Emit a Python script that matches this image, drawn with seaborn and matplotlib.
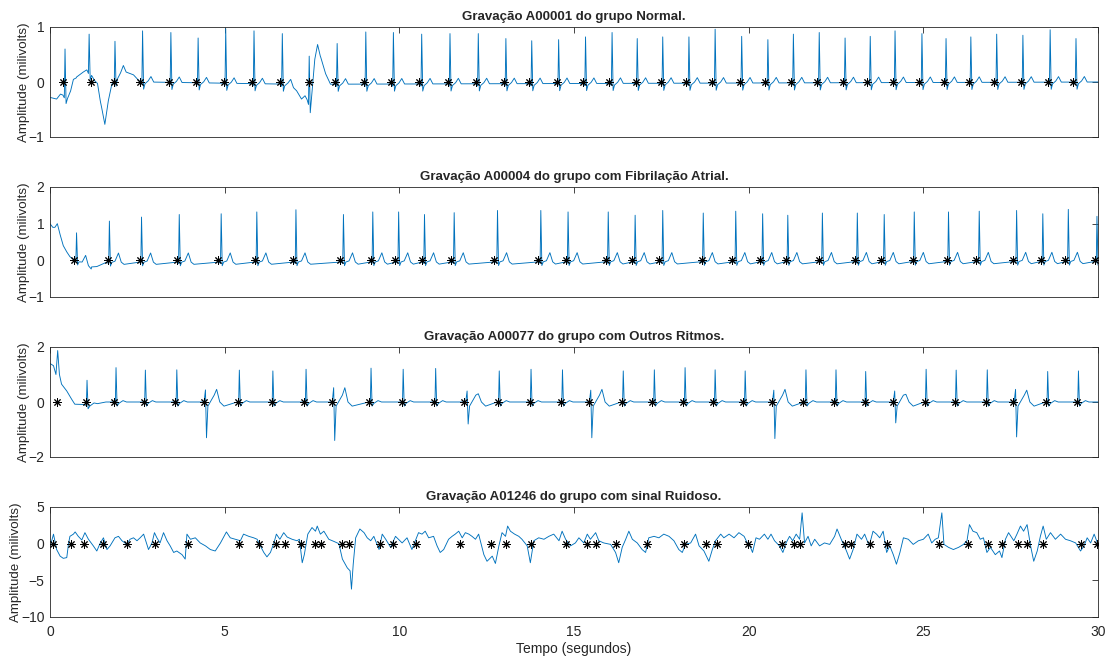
import numpy as np
import pandas as pd
import matplotlib
matplotlib.use('Agg')
import matplotlib.pyplot as plt
import seaborn as sns

# ---- painel 1: A00001 (Normal) ----
p1_beats = [0.43, 1.12, 1.86, 2.65, 3.46, 4.24, 5.03, 5.84, 6.65, 7.42, 8.22, 9.04, 9.83,
            10.64, 11.45, 12.26, 13.05, 13.79, 14.56, 15.33, 16.09, 16.81, 17.54, 18.29, 19.04, 19.8,
            20.55, 21.28, 22.02, 22.76, 23.48, 24.19, 24.96, 25.65, 26.36, 27.1, 27.85, 28.63, 29.37]
p1_peaks = [0.6, 0.87, 0.74, 0.93, 0.9, 0.8, 0.97, 0.93, 0.88, 0.47, 0.7, 0.91, 0.9,
            0.87, 0.88, 0.88, 0.79, 0.75, 0.77, 0.82, 0.9, 0.79, 0.82, 0.82, 0.96, 0.83,
            0.77, 0.87, 0.9, 0.8, 0.83, 0.93, 0.88, 0.79, 0.82, 0.87, 0.85, 0.95, 0.79]
p1_base_t = [0.0, 0.19, 0.3, 0.53, 0.64, 0.76, 0.95, 1.05, 1.19, 1.38, 1.48, 1.57, 1.67, 1.77,
             1.95, 2.1, 2.39, 2.58, 2.8, 6.87, 7.06, 7.2, 7.3, 7.46, 7.56, 7.62, 7.75, 7.89, 8.03, 30.0]
p1_base_v = [-0.28, -0.31, -0.22, -0.28, -0.1, 0.09, 0.18, 0.22, 0.15, -0.16, -0.47, -0.77, -0.34, -0.04,
             0.1, 0.2, 0.13, 0.0, 0.0, -0.04, -0.16, -0.31, -0.25, -0.44, 0.27, 0.64, 0.45, 0.15, -0.04, 0.0]
p1_stars = [0.38, 1.18, 1.83, 2.58, 3.41, 4.18, 4.98, 5.79, 6.58, 7.40, 8.16, 8.99, 9.76,
            10.57, 11.39, 12.2, 13.0, 13.72, 14.51, 15.25, 16.0, 16.77, 17.48, 18.2, 18.94, 19.75,
            20.47, 21.21, 21.95, 22.69, 23.4, 24.14, 24.89, 25.59, 26.31, 27.03, 27.79, 28.58, 29.28]

# ---- painel 2: A00004 (Fibrilação Atrial) ----
p2_beats = [0.76, 1.70, 2.62, 3.70, 4.90, 5.92, 7.04, 8.40, 9.24, 9.98,
            10.72, 11.57, 12.81, 14.05, 14.83, 15.98, 16.75, 17.54, 18.7, 19.63,
            20.40, 21.12, 22.11, 23.11, 23.88, 24.74, 25.72, 26.6, 27.67, 28.42, 29.15, 29.97]
p2_peaks = [0.75, 1.07, 1.18, 1.25, 1.27, 1.32, 1.38, 1.25, 1.32, 1.32,
            1.25, 1.3, 1.36, 1.36, 1.32, 1.32, 1.23, 1.36, 1.29, 1.34,
            1.27, 1.23, 1.29, 1.29, 1.25, 1.32, 1.32, 1.34, 1.36, 1.27, 1.39, 1.2]
p2_base_t = [0.0, 0.08, 0.14, 0.21, 0.29, 0.38, 0.48, 0.57, 0.67, 1.19, 1.34, 1.6, 2.0, 30.0]
p2_base_v = [1.0, 0.9, 0.9, 1.0, 0.7, 0.4, 0.23, 0.1, 0.02, -0.18, -0.17, -0.06, -0.05, -0.03]
p2_stars = [0.69, 1.65, 2.58, 3.63, 4.82, 5.87, 6.97, 8.30, 9.19, 9.88,
            10.64, 11.48, 12.71, 13.98, 14.76, 15.91, 16.65, 17.43, 18.66, 19.52,
            20.33, 21.06, 22.0, 23.03, 23.79, 24.69, 25.67, 26.51, 27.58, 28.37, 29.06, 29.92]

# ---- painel 3: A00077 (Outros Ritmos) ----
p3_beats = [1.06, 1.89, 2.73, 3.63, 5.42, 6.38, 7.33, 9.19,
            10.11, 11.04, 12.86, 13.77, 14.67, 16.41, 17.3, 18.18, 19.04, 19.9,
            21.64, 22.5, 23.35, 25.08, 25.94, 26.83, 28.56, 29.44]
p3_peaks = [0.79, 1.25, 1.16, 1.17, 1.16, 1.13, 1.19, 1.23,
            1.19, 1.22, 1.13, 1.19, 1.17, 1.13, 1.17, 1.25, 1.17, 1.13,
            1.17, 1.17, 1.11, 1.19, 1.16, 1.17, 1.11, 1.13]
p3_ect_t = [4.46, 8.13, 11.95, 15.49, 20.73, 24.19, 27.65]
p3_ect_up = [0.44, 0.52, 0.4, 0.43, 0.43, 0.4, 0.46]
p3_ect_down = [-1.3, -1.4, -0.8, -1.3, -1.33, -0.76, -1.27]
p3_ect_twave = [0.46, 0.52, 0.3, 0.46, 0.46, 0.28, 0.43]
p3_base_t = [0.0, 0.1, 0.17, 0.22, 0.27, 0.33, 0.48, 0.62, 0.71, 1.2, 1.6, 30.0]
p3_base_v = [1.4, 1.32, 1.0, 1.87, 1.0, 0.65, 0.4, 0.1, -0.08, -0.1, 0.0, 0.0]
p3_stars = [0.19, 1.03, 1.84, 2.69, 3.58, 4.42, 5.37, 6.35, 7.28, 8.06, 9.14,
            10.09, 11.0, 11.85, 12.82, 13.74, 14.63, 15.43, 16.37, 17.23, 18.13, 18.99, 19.85,
            20.66, 21.55, 22.45, 23.33, 24.13, 25.05, 25.91, 26.8, 27.58, 28.52, 29.39]

# ---- painel 4: A01246 (sinal Ruidoso) ----
p4_t = [0.00, 0.10, 0.19, 0.29, 0.38, 0.48, 0.53, 0.57, 0.67, 0.72, 0.81, 0.91, 1.00, 1.10, 1.24,
        1.34, 1.43, 1.53, 1.63, 1.72, 1.86, 1.96, 2.06, 2.20, 2.29, 2.39, 2.49, 2.58, 2.68, 2.82,
        2.92, 2.99, 3.06, 3.15, 3.25, 3.35, 3.44, 3.54, 3.63, 3.78, 3.87, 3.92, 4.02, 4.16, 4.30,
        4.45, 4.59, 4.73, 4.88, 5.05, 5.16, 5.31, 5.45, 5.54, 5.69, 5.83, 5.93, 6.00, 6.12, 6.21,
        6.31, 6.41, 6.48, 6.58, 6.69, 6.79, 6.93, 7.07, 7.14, 7.22, 7.28, 7.38, 7.50, 7.60, 7.65,
        7.74, 7.84, 7.98, 8.13, 8.27, 8.37, 8.51, 8.59, 8.63, 8.68, 8.75, 8.87, 8.99, 9.08, 9.18,
        9.27, 9.42, 9.51, 9.61, 9.75, 9.89,
        10.08, 10.22, 10.36, 10.46, 10.55, 10.65, 10.74, 10.84, 10.98, 11.08,
        11.17, 11.27, 11.41, 11.51, 11.60, 11.70, 11.80, 11.89, 11.99, 12.08,
        12.18, 12.27, 12.42, 12.51, 12.66, 12.75, 12.85, 12.94, 13.04, 13.10,
        13.18, 13.30, 13.42, 13.51, 13.66, 13.75, 13.85, 13.99, 14.14, 14.28,
        14.42, 14.57, 14.66, 14.76, 14.90, 15.04, 15.14, 15.28, 15.38, 15.47,
        15.62, 15.71, 15.85, 16.05, 16.19, 16.28, 16.38, 16.48, 16.57, 16.67,
        16.81, 16.95, 17.05, 17.14, 17.29, 17.43, 17.57, 17.72, 17.86, 18.00,
        18.10, 18.19, 18.34, 18.48, 18.58, 18.72, 18.86, 18.96, 19.05, 19.20,
        19.29, 19.44, 19.58, 19.72, 19.87, 19.96,
        20.02, 20.11, 20.21, 20.31, 20.45, 20.55, 20.64, 20.74, 20.88, 20.98,
        21.07, 21.17, 21.26, 21.36, 21.46, 21.53, 21.60, 21.70, 21.79, 21.89,
        22.03, 22.17, 22.32, 22.46, 22.53, 22.65, 22.80, 22.89, 22.99, 23.10,
        23.23, 23.32, 23.45, 23.56, 23.66, 23.75, 23.85, 23.95, 24.04, 24.14,
        24.23, 24.33, 24.43, 24.57, 24.71, 24.86, 25.00, 25.14, 25.24, 25.34,
        25.43, 25.53, 25.59, 25.72, 25.86, 26.01, 26.15, 26.25, 26.32, 26.42,
        26.53, 26.63, 26.72, 26.82, 26.92, 27.06, 27.18, 27.25, 27.35, 27.44,
        27.59, 27.68, 27.78, 27.87, 27.97, 28.07, 28.16, 28.26, 28.35, 28.43,
        28.52, 28.64, 28.78, 28.93, 29.07, 29.21, 29.36, 29.50, 29.60, 29.69,
        29.79, 29.89, 30.00]
p4_v = [-0.5, 1.3, -0.8, -1.7, -2.0, -1.9, 0.0, 1.0, 1.3, 1.6, 1.0, 0.5, 1.5, 0.6, -0.3,
        -1.0, 0.0, 0.8, -0.8, -0.3, 0.8, 1.0, 0.4, -0.1, 0.6, 0.8, 0.4, 0.8, 1.3, -0.8,
        0.1, 1.5, 0.8, 0.1, 1.5, 0.4, -0.3, -1.2, -1.0, -1.5, -2.1, 1.3, 0.6, 0.8, 0.1,
        -0.3, -0.8, -1.0, 0.1, 1.6, 0.8, 0.6, 0.4, 1.3, 1.0, 0.8, 0.6, -0.1, -1.2, -1.8,
        -1.2, 0.1, 1.3, 0.6, 1.5, 0.9, 0.6, 0.4, 0.6, -2.6, -1.5, 1.3, 2.2, 1.7, 2.4,
        1.3, 1.7, 0.6, 0.3, 0.0, -2.1, -3.3, -3.7, -6.2, -2.8, 0.8, 2.0, 1.5, 0.8, 0.4,
        1.0, -0.8, 1.3, 0.6, -0.5, 1.0,
        0.1, 0.8, -0.8, 0.4, 1.5, 1.3, 1.7, 0.8, 1.0, -0.3,
        -1.2, -0.8, 0.6, 1.0, 1.3, 1.7, 0.8, 1.5, 1.3, 1.0,
        0.6, 1.3, -1.5, -2.4, -1.7, -2.7, -0.3, 1.5, 1.0, 2.4,
        1.7, 1.3, 1.0, 0.6, -0.3, -2.6, 0.4, 0.8, 0.6, 1.0,
        1.3, 0.4, 1.7, 0.6, -0.3, 0.1, 0.8, 0.1, 1.3, 0.6,
        1.5, 0.4, 0.1, -0.1, -1.2, -2.6, -0.5, 0.6, 1.7, 0.6,
        0.1, -0.8, -1.2, 0.8, 1.0, 0.8, 1.3, 1.0, 0.4, -0.8,
        -1.2, -0.1, 0.1, 1.3, -0.3, -1.0, -2.4, -0.8, 0.4, 1.3,
        0.8, 1.3, 0.8, 1.5, 1.0, 0.1,
        -0.1, -1.2, 0.8, 0.6, 1.3, 0.6, 1.3, 0.4, -0.3, -1.2,
        0.1, 1.0, 0.4, 1.3, 0.6, 4.2, 0.1, 1.0, -0.3, 0.6,
        -0.3, 0.1, -0.1, 1.0, 2.0, 0.6, -1.0, -2.1, -0.8, 1.3,
        0.6, 1.3, -0.3, 1.7, 1.3, 0.8, 1.7, -1.2, -0.3, -1.5,
        -2.8, -1.2, 0.8, 0.6, -0.1, 0.4, 0.6, 1.3, 0.1, 0.6,
        0.8, 4.2, -0.1, -0.5, -0.8, -0.5, -0.1, 0.4, 2.6, 1.7,
        1.5, 0.6, 0.8, -1.2, -0.5, -1.5, -1.0, -1.9, 0.6, 1.5,
        0.4, 1.3, 2.4, 1.7, 2.6, -0.3, -2.4, -1.0, 1.0, 2.4,
        0.6, 1.5, 0.6, 1.3, 0.6, 0.4, 0.1, -1.0, -0.3, 0.8,
        0.1, 1.3, -0.1]
p4_stars = [0.10, 0.59, 0.96, 1.51, 2.20, 3.01, 3.94, 5.42, 5.98, 6.46, 6.74, 7.19, 7.58, 7.76,
            8.37, 8.56, 9.46, 9.83, 10.48, 11.75, 12.61, 13.06, 13.78, 14.76, 15.36, 15.64, 16.19,
            17.10, 18.15, 18.77, 19.08, 19.99, 20.96, 21.31, 21.48, 22.75, 22.94, 23.47, 23.95,
            25.46, 26.29, 26.84, 27.25, 27.71, 27.97, 28.43, 29.52, 29.98]

titles = ['Gravação A00001 do grupo Normal.',
          'Gravação A00004 do grupo com Fibrilação Atrial.',
          'Gravação A00077 do grupo com Outros Ritmos.',
          'Gravação A01246 do grupo com sinal Ruidoso.']
ylims = [(-1, 1), (-1, 2), (-2, 2), (-10, 5)]
yticks = [[-1, 0, 1], [-1, 0, 1, 2], [-2, 0, 2], [-10, -5, 0, 5]]


def beat_shape(dt, dv, peak_idx):
    return np.array(dt), np.array(dv), peak_idx


# forma de um batimento: (deslocamento em s, desvio da linha de base); o pico vem dos dados
shape1 = beat_shape([-0.06, -0.02, 0.0, 0.03, 0.07, 0.16, 0.24, 0.32],
                    [0.0, -0.04, 0.0, -0.13, -0.03, 0.02, 0.1, 0.0], 2)
shape2 = beat_shape([-0.06, -0.02, 0.0, 0.03, 0.07, 0.16, 0.26, 0.34, 0.42],
                    [0.0, -0.04, 0.0, -0.1, 0.0, 0.03, 0.25, 0.0, -0.06], 2)
shape3 = beat_shape([-0.06, -0.02, 0.0, 0.03, 0.08, 0.2, 0.3],
                    [0.0, -0.05, 0.0, -0.15, -0.05, 0.05, 0.0], 2)
ect_dt = np.array([-0.05, -0.01, 0.02, 0.06, 0.15, 0.24, 0.31, 0.4, 0.52])
ect_dv = np.array([0.0, 0.0, 0.0, -0.15, 0.05, 0.25, 0.0, 0.0, -0.15])


def build_trace(base_t, base_v, beats, peaks, shape, ectopic=None):
    dt, dv, pk = shape
    pts_t, pts_v, windows = [], [], []
    for b, p in zip(beats, peaks):
        tt = b + dt
        vv = np.interp(tt, base_t, base_v) + dv
        vv[pk] = p
        pts_t.extend(tt); pts_v.extend(vv)
        windows.append((tt[0], tt[-1]))
    if ectopic is not None:
        for b, up, down, tw in zip(*ectopic):
            tt = b + ect_dt
            vv = np.interp(tt, base_t, base_v) + ect_dv
            vv[1], vv[2], vv[6] = up, down, tw
            pts_t.extend(tt); pts_v.extend(vv)
            windows.append((tt[0], tt[-1]))
    for t, v in zip(base_t, base_v):
        if not any(a <= t <= c for a, c in windows):
            pts_t.append(t); pts_v.append(v)
    df = pd.DataFrame({'t': pts_t, 'v': pts_v}).sort_values('t')
    return df


traces = [
    build_trace(p1_base_t, p1_base_v, p1_beats, p1_peaks, shape1),
    build_trace(p2_base_t, p2_base_v, p2_beats, p2_peaks, shape2),
    build_trace(p3_base_t, p3_base_v, p3_beats, p3_peaks, shape3,
                ectopic=(p3_ect_t, p3_ect_up, p3_ect_down, p3_ect_twave)),
    pd.DataFrame({'t': p4_t, 'v': p4_v}),
]
stars = [p1_stars, p2_stars, p3_stars, p4_stars]

sns.set_style('white')
plt.rcParams['font.family'] = ['Liberation Sans', 'DejaVu Sans']

fig = plt.figure(figsize=(11.1, 6.59), dpi=100)
tops = [27, 187, 347, 507]
height = 110
label_pads = [-1, -1, -1, -1]
for i in range(4):
    ax = fig.add_axes([50 / 1110, 1 - (tops[i] + height) / 659, 1048 / 1110, height / 659])
    sns.lineplot(data=traces[i], x='t', y='v', ax=ax, estimator=None, sort=False,
                 color='#0072BD', linewidth=0.65)
    sdf = pd.DataFrame({'t': stars[i], 'v': [0.0] * len(stars[i])})
    sns.scatterplot(data=sdf, x='t', y='v', ax=ax, marker=(8, 2, 0), s=30,
                    color='black', edgecolor='black', linewidth=0.7, zorder=3)
    ax.set_xlim(0, 30)
    ax.set_ylim(*ylims[i])
    ax.set_xticks([0, 5, 10, 15, 20, 25, 30])
    ax.set_yticks(yticks[i])
    ax.tick_params(direction='in', top=True, right=True, length=4, width=0.6,
                   labelsize=10, colors='#262626', pad=4)
    ax.tick_params(axis='x', pad=6)
    for sp in ax.spines.values():
        sp.set_color('#262626')
        sp.set_linewidth(0.6)
    ax.set_title(titles[i], fontsize=9.5, fontweight='bold', pad=5)
    ax.set_ylabel('Amplitude (milivolts)', fontsize=9.6, color='#262626', labelpad=label_pads[i])
    if i < 3:
        ax.set_xticklabels([])
        ax.set_xlabel('')
    else:
        ax.set_xlabel('Tempo (segundos)', fontsize=10, color='#262626', labelpad=2)

fig.savefig('out.png', dpi=100)
